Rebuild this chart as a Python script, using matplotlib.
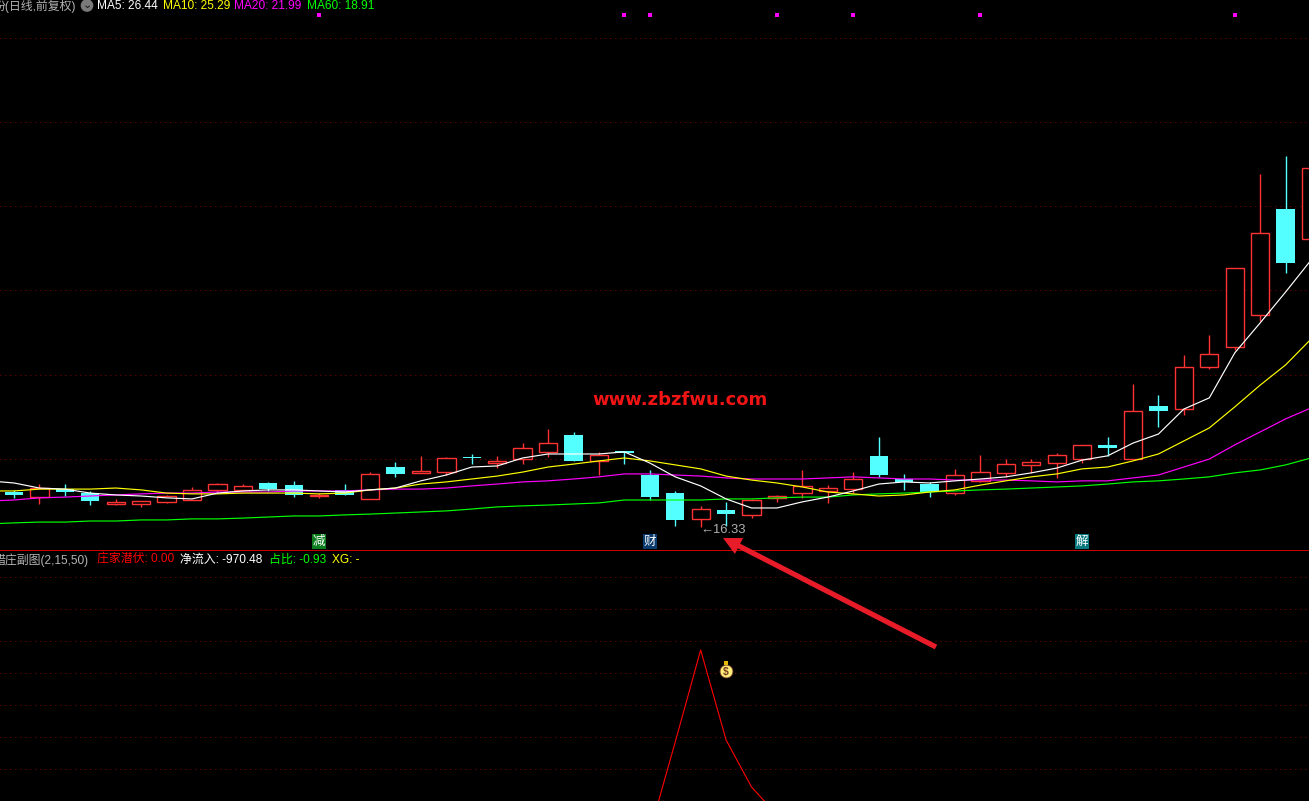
import matplotlib
matplotlib.use("Agg")
import matplotlib.pyplot as plt
from matplotlib.patches import Polygon, Rectangle

W, H = 1309, 801
FONT = ['Liberation Sans', 'Noto Sans CJK SC', 'DejaVu Sans']
plt.rcParams['font.family'] = FONT

# ---- daily candles: index 0..51 ----
high = [17.71,17.93,17.93,17.67,17.37,17.29,17.52,17.82,17.97,17.93,18.01,18.05,17.59,17.93,18.38,18.76,18.99,18.95,19.06,18.99,
        19.47,20.00,19.89,19.14,19.17,18.46,17.67,17.11,17.26,17.37,17.52,18.46,17.89,18.38,19.70,18.31,18.01,18.50,19.02,18.87,
        18.87,19.10,19.40,19.70,21.69,21.28,22.78,23.53,26.05,29.59,30.27,29.81]
low = [17.41,17.18,17.48,17.14,17.14,17.07,17.22,17.33,17.63,17.71,17.67,17.44,17.41,17.52,17.37,18.20,18.35,18.27,18.68,18.53,
       18.68,18.95,18.80,18.27,18.68,17.33,16.36,16.33,16.35,16.65,17.26,17.41,17.22,17.59,18.20,17.71,17.44,17.52,18.01,18.20,
       18.35,18.16,18.72,18.99,18.87,20.08,20.53,22.26,22.97,24.06,25.87,27.14]
body_top = [17.63,17.78,17.74,17.59,17.26,17.29,17.48,17.71,17.93,17.86,17.97,17.89,17.53,17.71,18.31,18.57,18.42,18.91,18.95,18.80,
            19.29,19.47,19.77,19.02,19.17,18.27,17.59,16.99,16.95,17.33,17.48,17.86,17.78,18.12,18.99,18.12,17.93,18.27,18.38,18.68,
            18.76,19.02,19.40,19.40,20.68,20.87,22.33,22.82,26.05,27.37,28.27,29.81]
body_bot = [17.52,17.44,17.63,17.29,17.18,17.18,17.26,17.33,17.71,17.71,17.74,17.52,17.48,17.52,17.37,18.31,18.35,18.38,18.91,18.72,
            18.87,19.14,18.80,18.80,19.10,17.44,16.58,16.62,16.80,16.77,17.41,17.59,17.67,17.74,18.27,18.01,17.63,17.59,18.05,18.35,
            18.65,18.72,18.87,19.29,18.87,20.68,20.75,22.33,23.08,24.29,26.24,27.14]
falling = [0,2,3,10,11,13,15,18,22,24,25,26,28,34,35,36,43,45,50]

# ---- moving averages: index -1..51 ----
ma_index = list(range(-1, 52))
ma5 = [18.05,17.97,17.78,17.74,17.59,17.52,17.48,17.41,17.37,17.59,17.67,17.71,17.71,17.67,17.63,17.71,17.78,18.05,18.27,18.57,18.61,
       18.91,19.06,19.06,19.06,19.14,18.72,18.20,17.86,17.37,17.03,17.03,17.26,17.44,17.67,17.93,18.01,17.97,18.05,18.12,18.20,
       18.35,18.53,18.83,18.99,19.47,19.81,20.75,21.17,22.86,23.99,25.15,26.35]
ma10 = [17.67,17.67,17.74,17.74,17.74,17.78,17.71,17.59,17.56,17.56,17.59,17.59,17.59,17.56,17.59,17.71,17.78,17.93,18.01,18.12,18.23,
        18.38,18.57,18.68,18.80,18.91,18.80,18.65,18.50,18.23,18.08,17.97,17.82,17.63,17.56,17.48,17.52,17.63,17.71,17.89,18.05,
        18.20,18.31,18.50,18.57,18.80,19.06,19.55,20.04,20.83,21.65,22.41,23.38]
ma20 = [17.29,17.33,17.41,17.44,17.48,17.52,17.56,17.59,17.59,17.63,17.63,17.63,17.67,17.67,17.67,17.71,17.74,17.74,17.78,17.86,17.93,
        18.01,18.05,18.12,18.20,18.31,18.31,18.27,18.23,18.16,18.12,18.12,18.12,18.16,18.20,18.16,18.12,18.12,18.08,18.08,18.08,
        18.05,18.01,18.05,18.05,18.16,18.27,18.57,18.87,19.40,19.89,20.38,20.79]
ma60 = [16.43,16.47,16.50,16.50,16.54,16.54,16.58,16.58,16.62,16.62,16.65,16.69,16.73,16.73,16.77,16.80,16.84,16.88,16.92,16.99,17.07,
        17.11,17.14,17.18,17.22,17.33,17.33,17.33,17.33,17.37,17.37,17.41,17.44,17.44,17.52,17.56,17.59,17.63,17.67,17.71,17.74,
        17.78,17.82,17.86,17.93,18.01,18.05,18.12,18.20,18.35,18.46,18.65,18.91]

# ---- signals and sub-chart ----
marker_index = [12,24,25,30,33,38,48]
signal_index = [12,25,42]
signal_text = ['减','财','解']
signal_bg = ['#0b7d1e','#0a3a6e','#0a7a80']
price_grid = [34.70,31.54,28.39,25.23,22.03,18.87]
sub_grid = [263,231,199,167,135,103,71]
sub_index = [24,25,26,27,28,29,30,31]
sub_value = [0,8,98,190,100,53,25,0]

BG = '#000000'
RED = '#ff3333'
CYAN = '#54ffff'
GRID = '#a80000'

fig = plt.figure(figsize=(W/100, H/100), dpi=100, facecolor=BG)
ax = fig.add_axes([0, 1-550/H, 1, 550/H], facecolor=BG)
sub = fig.add_axes([0, 0, 1, 250/H], facecolor=BG)
xlim = (-0.5505, 50.92)
ax.set_xlim(*xlim); ax.set_ylim(15.45, 36.13)
sub.set_xlim(*xlim); sub.set_ylim(39, 289)
for a in (ax, sub):
    a.axis('off')

dots = (0, (0.8, 4.2))
for g in price_grid:
    ax.axhline(g, color=GRID, lw=0.72, ls=dots, zorder=1)
for g in sub_grid:
    sub.axhline(g, color=GRID, lw=0.72, ls=dots, zorder=1)

bw = 0.72
for i in range(len(high)):
    if i in falling:
        ax.vlines(i, low[i], high[i], color=CYAN, lw=1.0, zorder=2)
        ax.bar(i, body_top[i]-body_bot[i], bottom=body_bot[i], width=bw, color=CYAN, lw=0, zorder=3)
    else:
        ax.vlines(i, body_top[i], high[i], color=RED, lw=1.0, zorder=2)
        ax.vlines(i, low[i], body_bot[i], color=RED, lw=1.0, zorder=2)
        ax.bar(i, body_top[i]-body_bot[i], bottom=body_bot[i], width=bw,
               facecolor=BG, edgecolor=RED, lw=1.0, zorder=3)

for vals, col in [(ma60,'#00ff00'),(ma20,'#ff00ff'),(ma10,'#ffff00'),(ma5,'#ffffff')]:
    ax.plot(ma_index, vals, color=col, lw=0.85, zorder=4)

ax.scatter(marker_index, [35.57]*len(marker_index), marker='s', s=7, color='#ff00ff', lw=0, zorder=5)

for i, t, c in zip(signal_index, signal_text, signal_bg):
    ax.text(i, 15.77, t, color='white', fontsize=9, ha='center', va='center', zorder=6,
            family=['Noto Sans CJK SC'],
            bbox=dict(boxstyle='square,pad=0.08', fc=c, ec='none'))

ax.text(27.0, 16.22, '←16.33', color='#b0b0b0', fontsize=9.4, ha='left', va='center', zorder=6)
ax.text(22.73, 21.09, 'www.zbzfwu.com', color='#f01414', fontsize=13, weight='bold',
        family=['DejaVu Sans'], ha='left', va='center', zorder=6)

sub.plot(sub_index, sub_value, color='#ff0000', lw=0.8, zorder=4)

# money bag icon beside the peak
sub.scatter([28.0], [169], s=85, color='#ffef7a', edgecolor='#8a4a30', lw=0.6, zorder=5)
sub.scatter([28.0], [177], marker='s', s=12, color='#e8b800', lw=0, zorder=5)
sub.text(28.0, 168.5, '$', color='#7a3a20', fontsize=7.5, weight='bold', ha='center', va='center', zorder=6)

# divider
fig.add_artist(Rectangle((0, 1-551/H), 1, 1/H, transform=fig.transFigure, color='#c80000', lw=0))

def label(x, y, s, c):
    fig.text(x/W, 1-y/H, s, color=c, fontsize=8.6, ha='left', va='center')

label(-6, 6, '份(日线,前复权)', '#b4b4b4')
fig.text(87/W, 1-5.5/H, '⌄', color='#111111', fontsize=8, ha='center', va='center', family=['DejaVu Sans'],
         bbox=dict(boxstyle='circle,pad=0.12', fc='#7a7a7a', ec='none'))
label(97, 6, 'MA5: 26.44', '#ffffff')
label(163, 6, 'MA10: 25.29', '#ffff00')
label(234, 6, 'MA20: 21.99', '#ff00ff')
label(307, 6, 'MA60: 18.91', '#00ff00')
label(-6, 560, '猎庄副图(2,15,50)', '#b4b4b4')
label(97, 560, '庄家潜伏: 0.00', '#ff0000')
label(180, 560, '净流入: -970.48', '#ffffff')
label(269, 560, '占比: -0.93', '#00ff00')
label(332, 560, 'XG: -', '#ffff00')

# annotation arrow drawn over the screenshot
tip = (723, 538); neck = (739, 546); tail = (936, 647)
ux, uy = (tail[0]-tip[0]), (tail[1]-tip[1])
ln = (ux**2+uy**2)**0.5; ux /= ln; uy /= ln
nx, ny = -uy, ux
def P(x, y):
    return (x/W, 1-y/H)
pts = [tip,
       (neck[0]+nx*9, neck[1]+ny*9),
       (neck[0]+nx*2.6, neck[1]+ny*2.6),
       (tail[0]+nx*2.6, tail[1]+ny*2.6),
       (tail[0]-nx*2.6, tail[1]-ny*2.6),
       (neck[0]-nx*2.6, neck[1]-ny*2.6),
       (neck[0]-nx*9, neck[1]-ny*9)]
fig.add_artist(Polygon([P(*p) for p in pts], closed=True, transform=fig.transFigure, fc='#e81c28', ec='none'))

fig.savefig('out.png', dpi=100, facecolor=BG)
